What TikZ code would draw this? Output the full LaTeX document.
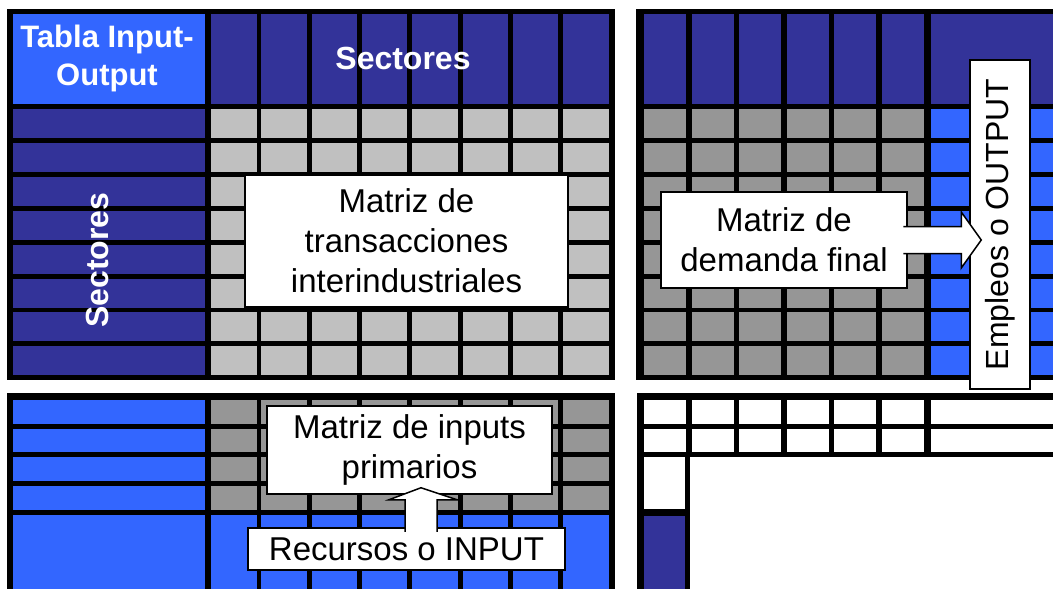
\documentclass[tikz,border=0pt]{standalone}
\usepackage{fontspec}
\setmainfont{Liberation Sans}
\usetikzlibrary{calc}
\definecolor{dblue}{HTML}{333399}
\definecolor{lblue}{HTML}{3366FF}
\definecolor{lgray}{HTML}{C0C0C0}
\definecolor{dgray}{HTML}{969696}

\begin{document}
\begin{tikzpicture}[x=1pt,y=-1pt,
  txtbox/.style={draw=black,line width=2.5pt,fill=white,align=center,inner sep=0pt,
    font=\fontsize{33}{40}\selectfont},
  hdtext/.style={text=white,align=center,inner sep=0pt,font=\bfseries\fontsize{31}{38}\selectfont},
  barrow/.style={draw=black,line width=1.5pt,fill=white,line join=miter}]
\useasboundingbox (0,0) rectangle (1053,589);
\clip (0,0) rectangle (1053,589);

% top left
\fill[black] (7,9) rectangle (615,380);
\fill[lblue] (13,14) rectangle (205,104);
\foreach \i in {0,...,7} {
  \fill[dblue] ({211+50.3*\i},14) rectangle ++(45.5,90);
  \fill[dblue] (13,{109+33.9*\i}) rectangle ++(192,29);
  \foreach \j in {0,...,7}
    \fill[lgray] ({211+50.3*\i},{109+33.9*\j}) rectangle ++(45.5,29);
}

% top right
\fill[black] (636,9) rectangle (1060,380);
\foreach \i in {0,...,5} {
  \fill[dblue] ({644+47.6*\i},14) rectangle ++(42,90);
  \foreach \j in {0,...,7}
    \fill[dgray] ({644+47.6*\i},{109+33.9*\j}) rectangle ++(42,29);
}
\fill[dblue] (931,14) rectangle (1060,104);
\foreach \j in {0,...,7}
  \fill[lblue] (931,{109+33.9*\j}) rectangle ++(130,29);

% bottom left
\fill[black] (7,393) rectangle (615,600);
\foreach \j in {0,...,3}
  \fill[lblue] (13,{400+28.7*\j}) rectangle ++(192,23.5);
\fill[lblue] (13,515) rectangle (205,600);
\foreach \i in {0,...,7} {
  \foreach \j in {0,...,3}
    \fill[dgray] ({211+50.3*\i},{400+28.7*\j}) rectangle ++(45.5,23.5);
  \fill[lblue] ({211+50.3*\i},515) rectangle ++(45.5,85);
}

% bottom right
\fill[black] (637,393) rectangle (1060,457);
\fill[black] (637,457) rectangle (690,600);
\foreach \i in {0,...,5}
  \foreach \j in {0,1}
    \fill[white] ({644+47.6*\i},{400+28.7*\j}) rectangle ++(42,23.5);
\foreach \j in {0,1}
  \fill[white] (931,{400+28.7*\j}) rectangle ++(130,23.5);
\fill[white] (644,457) rectangle (685,509);
\fill[dblue] (644,516) rectangle (685,600);

\node[hdtext] (tabla) at (107,58) {Tabla Input-\\Output};
\node[hdtext,font=\bfseries\fontsize{32}{38}\selectfont] (sechead) at (403,58) {Sectores};
\node[hdtext,rotate=90,font=\bfseries\fontsize{32}{38}\selectfont] (secside) at (97,260) {Sectores};

\node[txtbox,minimum width=323,minimum height=132] (trans) at (406.5,241)
  {Matriz de\\transacciones\\interindustriales};
\node[txtbox,minimum width=246,minimum height=96] (dem) at (784,240)
  {Matriz de\\demanda final};
\node[txtbox,rotate=90,minimum width=329,minimum height=60,font=\fontsize{32}{40}\selectfont] (outp)
  at (1000,224.5) {Empleos o OUTPUT};
\node[txtbox,minimum width=285,minimum height=88] (inp) at (409.5,450)
  {Matriz de inputs\\primarios};
\node[txtbox,minimum width=317,minimum height=42] (rec) at (406.5,549)
  {Recursos o INPUT};

\draw[barrow] ($(dem.east)+(-5,-13.5)$) -- ($(dem.east)+(53,-13.5)$) -- ($(dem.east)+(53,-28)$)
  -- ($(dem.east)+(73,0)$) -- ($(dem.east)+(53,28)$) -- ($(dem.east)+(53,13.5)$)
  -- ($(dem.east)+(-5,13.5)$);
\draw[barrow] ($(rec.north)+(-1.5,5)$) -- ($(rec.north)+(-1.5,-27)$) -- ($(rec.north)+(-17.5,-27)$)
  -- ($(rec.north)+(14.5,-39)$) -- ($(rec.north)+(50.5,-27)$) -- ($(rec.north)+(30.5,-27)$)
  -- ($(rec.north)+(30.5,5)$);
\end{tikzpicture}
\end{document}
